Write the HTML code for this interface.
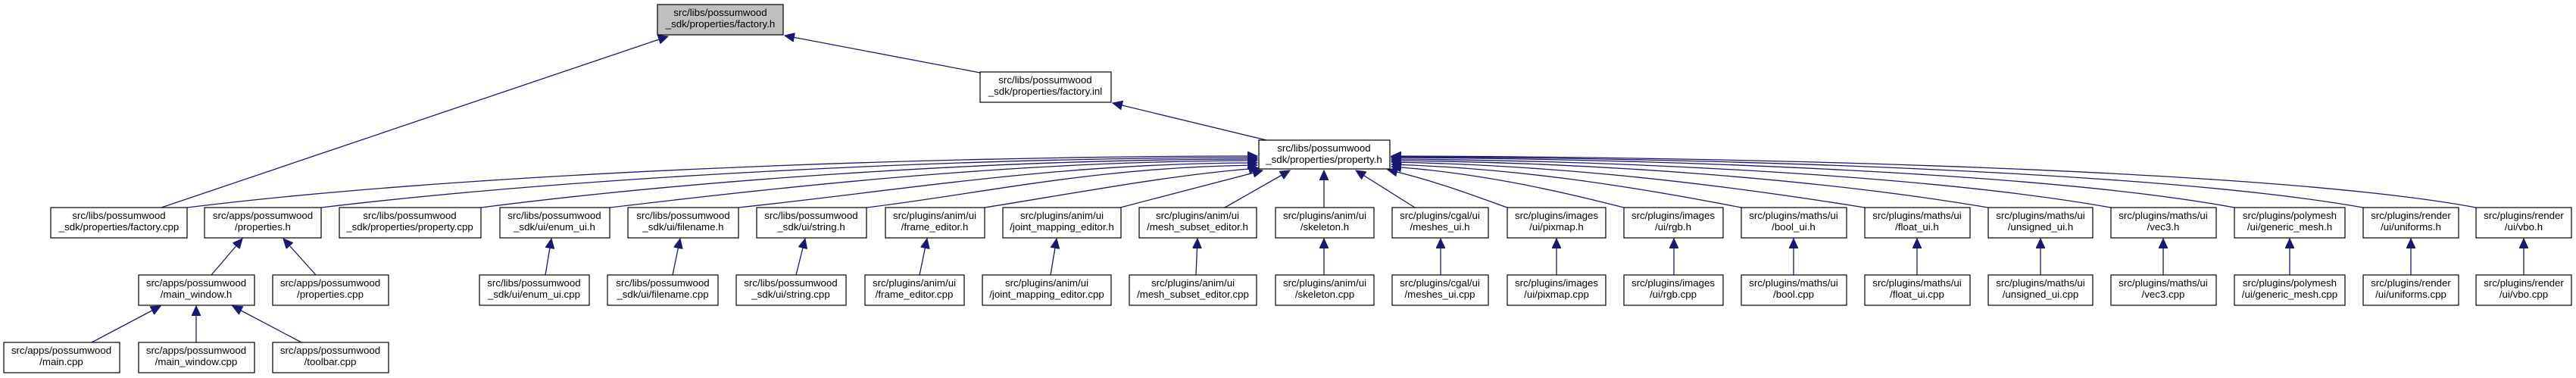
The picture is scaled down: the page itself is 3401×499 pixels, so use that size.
<!DOCTYPE html>
<html><head><meta charset="utf-8"><style>
html,body{margin:0;padding:0;background:#fff;}
svg{display:block}
text{font-family:"Liberation Sans",Arial,sans-serif;font-size:13.3px;fill:#000;text-anchor:middle}
.b{fill:#fff;stroke:#000;stroke-width:1.2}
.e{fill:none;stroke:#191970;stroke-width:1.3}
</style></head><body>
<svg width="3401" height="499" viewBox="0 0 3401 499" xmlns="http://www.w3.org/2000/svg">
<defs>
<marker id="a" markerUnits="userSpaceOnUse" markerWidth="14" markerHeight="12" refX="13" refY="6" orient="auto">
<path d="M0,0 L13,6 L0,12 Z" fill="#191970" stroke="#191970"/>
</marker>
</defs>
<g class="edges">
<!-- top -->
<path class="e" marker-end="url(#a)" d="M213,274 L882,48"/>
<path class="e" marker-end="url(#a)" d="M1294,96 L1036,47"/>
<path class="e" marker-end="url(#a)" d="M1672,185 L1469,136"/>
<!-- left children to property.h -->
<path class="e" marker-end="url(#a)" d="M247,274 C600,230 1200,206 1660,206"/>
<path class="e" marker-end="url(#a)" d="M424,274 C750,235 1250,208 1660,208"/>
<path class="e" marker-end="url(#a)" d="M635,274 C900,240 1300,210 1660,210"/>
<path class="e" marker-end="url(#a)" d="M805,274 C1050,245 1350,212 1660,212"/>
<path class="e" marker-end="url(#a)" d="M975,274 C1200,250 1400,215 1660,215"/>
<path class="e" marker-end="url(#a)" d="M1144,274 C1300,255 1450,220 1660,218"/>
<path class="e" marker-end="url(#a)" d="M1300,274 C1420,255 1550,230 1662,222"/>
<path class="e" marker-end="url(#a)" d="M1479,274 L1667,225"/>
<path class="e" marker-end="url(#a)" d="M1617,274 L1703,225"/>
<path class="e" marker-end="url(#a)" d="M1748,274 L1748,225"/>
<path class="e" marker-end="url(#a)" d="M1868,274 L1790,225"/>
<!-- right children -->
<path class="e" marker-end="url(#a)" d="M1990,274 C1950,260 1900,240 1832,224"/>
<path class="e" marker-end="url(#a)" d="M2144,274 C2050,250 1950,228 1837,220"/>
<path class="e" marker-end="url(#a)" d="M2299,274 C2150,245 2000,222 1837,217"/>
<path class="e" marker-end="url(#a)" d="M2462,274 C2250,240 2050,218 1837,214"/>
<path class="e" marker-end="url(#a)" d="M2625,274 C2400,236 2100,214 1837,212"/>
<path class="e" marker-end="url(#a)" d="M2787,274 C2550,232 2150,212 1837,210"/>
<path class="e" marker-end="url(#a)" d="M2950,274 C2700,228 2200,210 1837,208"/>
<path class="e" marker-end="url(#a)" d="M3120,274 C2850,226 2250,208 1837,207"/>
<path class="e" marker-end="url(#a)" d="M3269,274 C3000,224 2300,207 1837,206"/>
<!-- row5 edges -->
<path class="e" marker-end="url(#a)" d="M279,363 L320,315"/>
<path class="e" marker-end="url(#a)" d="M417,363 L374,315"/>
<path class="e" marker-end="url(#a)" d="M720,363 L728,315"/>
<path class="e" marker-end="url(#a)" d="M888,363 L898,315"/>
<path class="e" marker-end="url(#a)" d="M1051,363 L1063,315"/>
<path class="e" marker-end="url(#a)" d="M1214,363 L1224,315"/>
<path class="e" marker-end="url(#a)" d="M1387,363 L1395,315"/>
<path class="e" marker-end="url(#a)" d="M1579,363 L1581,315"/>
<path class="e" marker-end="url(#a)" d="M1748,363 L1748,315"/>
<path class="e" marker-end="url(#a)" d="M1902,363 L1902,315"/>
<path class="e" marker-end="url(#a)" d="M2055,363 L2055,315"/>
<path class="e" marker-end="url(#a)" d="M2210,363 L2210,315"/>
<path class="e" marker-end="url(#a)" d="M2368,363 L2368,315"/>
<path class="e" marker-end="url(#a)" d="M2531,363 L2531,315"/>
<path class="e" marker-end="url(#a)" d="M2694,363 L2694,315"/>
<path class="e" marker-end="url(#a)" d="M2856,363 L2856,315"/>
<path class="e" marker-end="url(#a)" d="M3023,363 L3023,315"/>
<path class="e" marker-end="url(#a)" d="M3183,363 L3183,315"/>
<path class="e" marker-end="url(#a)" d="M3332,363 L3332,315"/>
<!-- row6 edges -->
<path class="e" marker-end="url(#a)" d="M121,452 L212,404"/>
<path class="e" marker-end="url(#a)" d="M259,452 L259,404"/>
<path class="e" marker-end="url(#a)" d="M398,452 L307,404"/>
</g>
<g>
<rect x="868" y="6" width="166" height="40" fill="#bfbfbf" stroke="#000" stroke-width="1.2"/>
<text x="951" y="21">src/libs/possumwood</text><text x="951" y="36">_sdk/properties/factory.h</text>

<rect class="b" x="1294" y="95" width="173" height="40"/>
<text x="1380" y="110">src/libs/possumwood</text><text x="1380" y="125">_sdk/properties/factory.inl</text>

<rect class="b" x="1662" y="185" width="173" height="38"/>
<text x="1748" y="200">src/libs/possumwood</text><text x="1748" y="215">_sdk/properties/property.h</text>

<!-- row4 -->
<rect class="b" x="67" y="274" width="180" height="40"/><text x="157" y="289">src/libs/possumwood</text><text x="157" y="304">_sdk/properties/factory.cpp</text>
<rect class="b" x="270" y="274" width="154" height="40"/><text x="347" y="289">src/apps/possumwood</text><text x="347" y="304">/properties.h</text>
<rect class="b" x="448" y="274" width="187" height="40"/><text x="541" y="289">src/libs/possumwood</text><text x="541" y="304">_sdk/properties/property.cpp</text>
<rect class="b" x="660" y="274" width="145" height="40"/><text x="732" y="289">src/libs/possumwood</text><text x="732" y="304">_sdk/ui/enum_ui.h</text>
<rect class="b" x="829" y="274" width="146" height="40"/><text x="902" y="289">src/libs/possumwood</text><text x="902" y="304">_sdk/ui/filename.h</text>
<rect class="b" x="999" y="274" width="145" height="40"/><text x="1071" y="289">src/libs/possumwood</text><text x="1071" y="304">_sdk/ui/string.h</text>
<rect class="b" x="1169" y="274" width="131" height="40"/><text x="1234" y="289">src/plugins/anim/ui</text><text x="1234" y="304">/frame_editor.h</text>
<rect class="b" x="1324" y="274" width="156" height="40"/><text x="1402" y="289">src/plugins/anim/ui</text><text x="1402" y="304">/joint_mapping_editor.h</text>
<rect class="b" x="1504" y="274" width="155" height="40"/><text x="1581" y="289">src/plugins/anim/ui</text><text x="1581" y="304">/mesh_subset_editor.h</text>
<rect class="b" x="1684" y="274" width="130" height="40"/><text x="1749" y="289">src/plugins/anim/ui</text><text x="1749" y="304">/skeleton.h</text>
<rect class="b" x="1838" y="274" width="127" height="40"/><text x="1901" y="289">src/plugins/cgal/ui</text><text x="1901" y="304">/meshes_ui.h</text>
<rect class="b" x="1990" y="274" width="130" height="40"/><text x="2055" y="289">src/plugins/images</text><text x="2055" y="304">/ui/pixmap.h</text>
<rect class="b" x="2144" y="274" width="131" height="40"/><text x="2209" y="289">src/plugins/images</text><text x="2209" y="304">/ui/rgb.h</text>
<rect class="b" x="2299" y="274" width="139" height="40"/><text x="2368" y="289">src/plugins/maths/ui</text><text x="2368" y="304">/bool_ui.h</text>
<rect class="b" x="2462" y="274" width="139" height="40"/><text x="2531" y="289">src/plugins/maths/ui</text><text x="2531" y="304">/float_ui.h</text>
<rect class="b" x="2625" y="274" width="138" height="40"/><text x="2694" y="289">src/plugins/maths/ui</text><text x="2694" y="304">/unsigned_ui.h</text>
<rect class="b" x="2787" y="274" width="139" height="40"/><text x="2856" y="289">src/plugins/maths/ui</text><text x="2856" y="304">/vec3.h</text>
<rect class="b" x="2950" y="274" width="146" height="40"/><text x="3023" y="289">src/plugins/polymesh</text><text x="3023" y="304">/ui/generic_mesh.h</text>
<rect class="b" x="3120" y="274" width="126" height="40"/><text x="3183" y="289">src/plugins/render</text><text x="3183" y="304">/ui/uniforms.h</text>
<rect class="b" x="3269" y="274" width="126" height="40"/><text x="3332" y="289">src/plugins/render</text><text x="3332" y="304">/ui/vbo.h</text>

<!-- row5 -->
<rect class="b" x="183" y="363" width="153" height="40"/><text x="259" y="378">src/apps/possumwood</text><text x="259" y="393">/main_window.h</text>
<rect class="b" x="360" y="363" width="153" height="40"/><text x="436" y="378">src/apps/possumwood</text><text x="436" y="393">/properties.cpp</text>
<rect class="b" x="633" y="363" width="145" height="40"/><text x="705" y="378">src/libs/possumwood</text><text x="705" y="393">_sdk/ui/enum_ui.cpp</text>
<rect class="b" x="802" y="363" width="146" height="40"/><text x="875" y="378">src/libs/possumwood</text><text x="875" y="393">_sdk/ui/filename.cpp</text>
<rect class="b" x="972" y="363" width="145" height="40"/><text x="1044" y="378">src/libs/possumwood</text><text x="1044" y="393">_sdk/ui/string.cpp</text>
<rect class="b" x="1142" y="363" width="131" height="40"/><text x="1207" y="378">src/plugins/anim/ui</text><text x="1207" y="393">/frame_editor.cpp</text>
<rect class="b" x="1297" y="363" width="170" height="40"/><text x="1382" y="378">src/plugins/anim/ui</text><text x="1382" y="393">/joint_mapping_editor.cpp</text>
<rect class="b" x="1491" y="363" width="168" height="40"/><text x="1575" y="378">src/plugins/anim/ui</text><text x="1575" y="393">/mesh_subset_editor.cpp</text>
<rect class="b" x="1684" y="363" width="130" height="40"/><text x="1749" y="378">src/plugins/anim/ui</text><text x="1749" y="393">/skeleton.cpp</text>
<rect class="b" x="1838" y="363" width="127" height="40"/><text x="1901" y="378">src/plugins/cgal/ui</text><text x="1901" y="393">/meshes_ui.cpp</text>
<rect class="b" x="1990" y="363" width="130" height="40"/><text x="2055" y="378">src/plugins/images</text><text x="2055" y="393">/ui/pixmap.cpp</text>
<rect class="b" x="2144" y="363" width="131" height="40"/><text x="2209" y="378">src/plugins/images</text><text x="2209" y="393">/ui/rgb.cpp</text>
<rect class="b" x="2299" y="363" width="139" height="40"/><text x="2368" y="378">src/plugins/maths/ui</text><text x="2368" y="393">/bool.cpp</text>
<rect class="b" x="2462" y="363" width="139" height="40"/><text x="2531" y="378">src/plugins/maths/ui</text><text x="2531" y="393">/float_ui.cpp</text>
<rect class="b" x="2625" y="363" width="138" height="40"/><text x="2694" y="378">src/plugins/maths/ui</text><text x="2694" y="393">/unsigned_ui.cpp</text>
<rect class="b" x="2787" y="363" width="139" height="40"/><text x="2856" y="378">src/plugins/maths/ui</text><text x="2856" y="393">/vec3.cpp</text>
<rect class="b" x="2950" y="363" width="146" height="40"/><text x="3023" y="378">src/plugins/polymesh</text><text x="3023" y="393">/ui/generic_mesh.cpp</text>
<rect class="b" x="3120" y="363" width="126" height="40"/><text x="3183" y="378">src/plugins/render</text><text x="3183" y="393">/ui/uniforms.cpp</text>
<rect class="b" x="3269" y="363" width="126" height="40"/><text x="3332" y="378">src/plugins/render</text><text x="3332" y="393">/ui/vbo.cpp</text>

<!-- row6 -->
<rect class="b" x="5" y="452" width="153" height="40"/><text x="81" y="467">src/apps/possumwood</text><text x="81" y="482">/main.cpp</text>
<rect class="b" x="183" y="452" width="153" height="40"/><text x="259" y="467">src/apps/possumwood</text><text x="259" y="482">/main_window.cpp</text>
<rect class="b" x="360" y="452" width="153" height="40"/><text x="436" y="467">src/apps/possumwood</text><text x="436" y="482">/toolbar.cpp</text>
</g>
</svg>
</body></html>
